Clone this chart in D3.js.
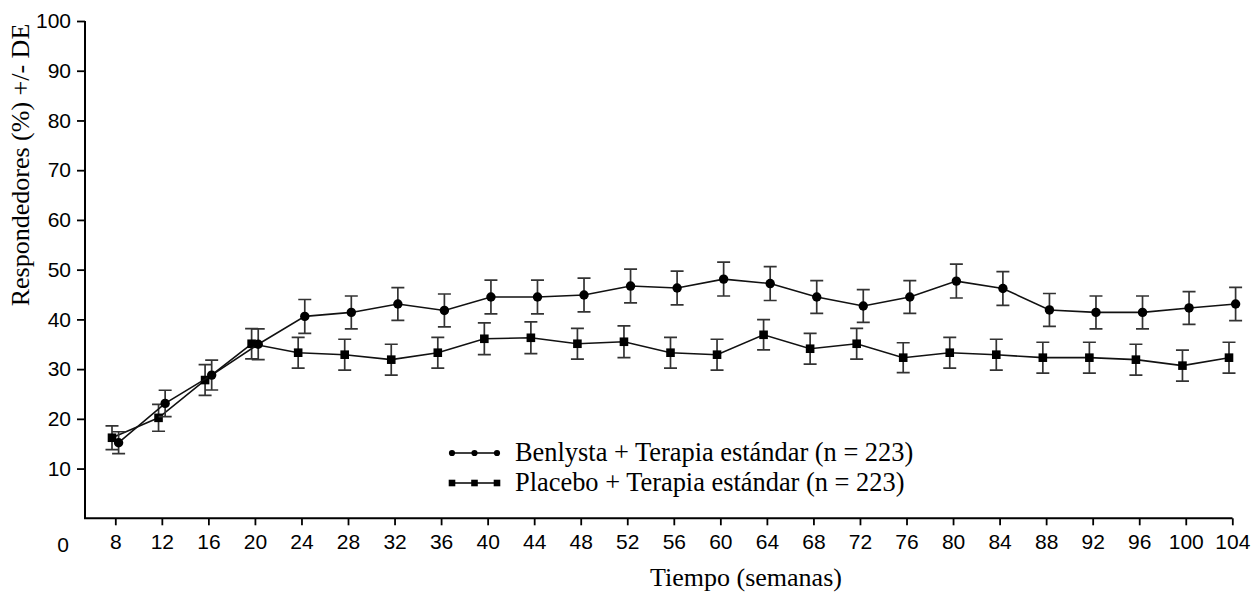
<!DOCTYPE html>
<html>
<head>
<meta charset="utf-8">
<script src="https://cdn.jsdelivr.net/npm/d3@7"></script>
<style>
  html, body { margin: 0; padding: 0; background: #fff; }
  svg { display: block; }
</style>
</head>
<body>
<svg id="chart" width="1253" height="592"></svg>
<script>
// ---- data ----
const weeks = [8, 12, 16, 20, 24, 28, 32, 36, 40, 44, 48, 52, 56, 60, 64, 68, 72, 76, 80, 84, 88, 92, 96, 100, 104];
const benlysta = [15.2, 23.1, 28.8, 35.0, 40.6, 41.4, 43.1, 41.8, 44.5, 44.5, 44.9, 46.7, 46.3, 48.1, 47.2, 44.5, 42.7, 44.5, 47.7, 46.2, 41.9, 41.4, 41.4, 42.3, 43.1];
const benlystaSD = [2.2, 2.65, 3.0, 3.1, 3.4, 3.3, 3.3, 3.3, 3.4, 3.4, 3.4, 3.4, 3.4, 3.4, 3.4, 3.3, 3.3, 3.3, 3.4, 3.4, 3.3, 3.3, 3.3, 3.3, 3.35];
const placebo = [16.2, 20.2, 27.8, 35.1, 33.3, 32.9, 31.9, 33.3, 36.1, 36.3, 35.1, 35.5, 33.3, 32.9, 36.9, 34.1, 35.1, 32.3, 33.3, 32.9, 32.3, 32.3, 31.9, 30.7, 32.3];
const placeboSD = [2.4, 2.7, 3.1, 3.05, 3.1, 3.1, 3.1, 3.1, 3.2, 3.2, 3.1, 3.2, 3.1, 3.1, 3.05, 3.1, 3.1, 3.0, 3.1, 3.1, 3.1, 3.1, 3.1, 3.1, 3.1];
const yTicks = [10, 20, 30, 40, 50, 60, 70, 80, 90, 100];
const xOriginLabel = "0";
const seriesNames = ["Benlysta + Terapia estándar (n = 223)", "Placebo + Terapia estándar (n = 223)"];
const xTitle = "Tiempo (semanas)";
const yTitle = "Respondedores (%) +/- DE";

// ---- layout ----
const svg = d3.select("#chart");
const axisX0 = 85, axisX1 = 1232.5;
const x = d3.scaleLinear().domain([8, 104]).range([115.3, 1232.3]);
const y = d3.scaleLinear().domain([0, 100]).range([518.3, 21]);
const dodge = 3.3;
const serif = "'Liberation Serif', 'Times New Roman', serif";
const sans = "'Liberation Sans', Arial, sans-serif";

// axes
const gx = svg.append("g").attr("transform", `translate(0,${y(0)})`)
  .call(d3.axisBottom(x).tickValues(weeks).tickSize(7).tickPadding(9).tickSizeOuter(0));
gx.select(".domain").remove();
gx.selectAll(".tick line").attr("stroke", "#000").attr("stroke-width", 1.8);
gx.selectAll(".tick text").attr("font-family", sans).attr("font-size", 21).attr("fill", "#000");

const gy = svg.append("g").attr("transform", `translate(${axisX0},0)`)
  .call(d3.axisLeft(y).tickValues(yTicks).tickSize(8).tickPadding(6).tickSizeOuter(0));
gy.select(".domain").remove();
gy.selectAll(".tick line").attr("stroke", "#000").attr("stroke-width", 1.8);
gy.selectAll(".tick text").attr("font-family", sans).attr("font-size", 21).attr("fill", "#000");

svg.append("path")
  .attr("d", `M${axisX0},${y(100)}V${y(0)}H${axisX1}`)
  .attr("fill", "none").attr("stroke", "#000").attr("stroke-width", 2);

svg.append("text").attr("x", axisX0 - 22).attr("y", y(0) + 34)
  .attr("text-anchor", "middle").attr("font-family", sans).attr("font-size", 21)
  .text(xOriginLabel);

// titles
svg.append("text").attr("x", 746).attr("y", 586)
  .attr("text-anchor", "middle").attr("font-family", serif).attr("font-size", 26)
  .text(xTitle);
svg.append("text").attr("transform", "translate(29,165) rotate(-90)")
  .attr("text-anchor", "middle").attr("font-family", serif).attr("font-size", 26)
  .text(yTitle);

// series
function drawSeries(vals, sds, off, shape) {
  const g = svg.append("g");
  const pts = weeks.map((w, i) => ({ w, v: vals[i], sd: sds[i] }));
  const px = d => x(d.w) + off;
  // error bars
  const eb = g.append("g").attr("stroke", "#333").attr("stroke-width", 1.7).attr("fill", "none");
  pts.forEach(d => {
    const cx = px(d), t = y(d.v + d.sd), b = y(d.v - d.sd);
    eb.append("path").attr("d", `M${cx},${t}V${b}M${cx - 6.5},${t}H${cx + 6.5}M${cx - 6.5},${b}H${cx + 6.5}`);
  });
  // line
  g.append("path").datum(pts)
    .attr("d", d3.line().x(px).y(d => y(d.v)))
    .attr("fill", "none").attr("stroke", "#111").attr("stroke-width", 1.6);
  // markers
  if (shape === "circle") {
    g.selectAll("circle").data(pts).join("circle")
      .attr("cx", px).attr("cy", d => y(d.v)).attr("r", 4.7).attr("fill", "#000");
  } else {
    g.selectAll("rect").data(pts).join("rect")
      .attr("x", d => px(d) - 4.3).attr("y", d => y(d.v) - 4.3)
      .attr("width", 8.6).attr("height", 8.6).attr("fill", "#000");
  }
}
drawSeries(placebo, placeboSD, -dodge, "square");
drawSeries(benlysta, benlystaSD, dodge, "circle");

// legend
const legY = [453, 483];
const legXs = [452, 474.5, 497];
const lg = svg.append("g");
legY.forEach((ly, i) => {
  lg.append("line").attr("x1", 450).attr("x2", 499).attr("y1", ly).attr("y2", ly)
    .attr("stroke", "#000").attr("stroke-width", 1.5);
  legXs.forEach(lx => {
    if (i === 0) lg.append("circle").attr("cx", lx).attr("cy", ly).attr("r", 3.1).attr("fill", "#000");
    else lg.append("rect").attr("x", lx - 3.3).attr("y", ly - 3.3).attr("width", 6.6).attr("height", 6.6).attr("fill", "#000");
  });
  lg.append("text").attr("x", 515).attr("y", ly + 7.5)
    .attr("font-family", serif).attr("font-size", 26.4).text(seriesNames[i]);
});
</script>
</body>
</html>
